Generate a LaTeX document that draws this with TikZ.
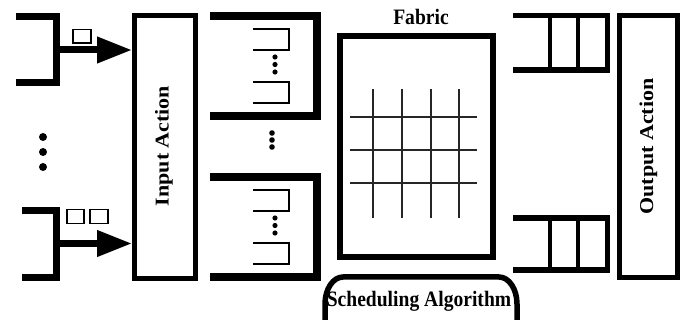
\documentclass[tikz,border=0pt]{standalone}
\usepackage{fontspec}
\setmainfont{Liberation Serif}
\usetikzlibrary{arrows.meta}
\tikzset{
  lbl/.style={font=\fontsize{22}{24}\selectfont\bfseries, inner sep=0pt},
  qbar/.style={line width=7pt, line join=miter},
  voq/.style={line width=8pt, line join=miter},
  thinq/.style={line width=1.8pt, line join=miter},
  oq/.style={line width=5.5pt, line join=miter},
  oqsep/.style={line width=4pt},
  actbox/.style={line width=5pt},
  pkt/.style={line width=1.8pt},
  feed/.style={line width=7pt, -{Triangle[length=35pt,width=25pt]}},
  grid/.style={line width=1.3pt, black!85},
}
\begin{document}
\begin{tikzpicture}[x=1pt,y=-1pt]
\useasboundingbox (0,0) rectangle (686,320);
\clip (0,0) rectangle (686,320);

% Input Action box
\draw[actbox] (134.5,15.5) rectangle (195.5,278.5);
\node[lbl, rotate=90] (inbox) at (164,146) {\scalebox{1}[0.89]{Input Action}};
\coordinate (inW1) at (132,50);
\coordinate (inW2) at (132,243.5);

% input queues
\draw[qbar] (16,16.5) -- (56.5,16.5) -- (56.5,83) -- (16,83);
\draw[qbar] (22,210.5) -- (56.5,210.5) -- (56.5,277.5) -- (22,277.5);
\coordinate (q1) at (56.5,50);
\coordinate (q2) at (56.5,243.5);
\draw[feed] (q1) -- (inW1);
\draw[feed] (q2) -- (inW2);

% packets
\draw[pkt] (73,29.5) rectangle (91,43);
\draw[pkt] (67,209.5) rectangle (84,223.5);
\draw[pkt] (90,209.5) rectangle (108,223.5);

% left dots
\fill (43,137) circle (4);
\fill (43,152) circle (4);
\fill (43,167) circle (4);

% VOQ blocks
\draw[voq] (210,16) -- (316.5,16) -- (316.5,116) -- (210,116);
\draw[voq] (210,177) -- (316.5,177) -- (316.5,277) -- (210,277);

\draw[thinq] (253,29) -- (289,29) -- (289,50) -- (253,50);
\draw[thinq] (253,82) -- (289,82) -- (289,103) -- (253,103);
\draw[thinq] (253,190) -- (289,190) -- (289,211) -- (253,211);
\draw[thinq] (253,243) -- (289,243) -- (289,264) -- (253,264);

\foreach \y in {57,64.5,72,218,225.5,233}{\fill (275,\y) circle (2.6);}
\foreach \y in {133,140,147}{\fill (272,\y) circle (2.8);}

% Fabric
\node[lbl, anchor=base] (fablbl) at (421,25) {\scalebox{0.89}[1]{Fabric}};
\draw[line width=5.5pt] (340,36) rectangle (493,257);
\node (fabric) at (416.5,146.5) {};
\foreach \y in {117,150,183}{\draw[grid] (350,\y) -- (477,\y);}
\foreach \x in {373,402,431,459}{\draw[grid] (\x,89) -- (\x,218);}

% Scheduling algorithm
\draw[line width=5.5pt] (325,340) -- (325,304)
  arc[start angle=180, end angle=270, x radius=18, y radius=27]
  -- (499,277)
  arc[start angle=270, end angle=360, x radius=18, y radius=27]
  -- (517,340);
\node[lbl, anchor=base] (sched) at (419,307) {\scalebox{0.89}[1]{Scheduling Algorithm}};

% output queues
\draw[oq] (513,15.5) -- (607.5,15.5) -- (607.5,70) -- (513,70);
\draw[oqsep] (549.5,15.5) -- (549.5,70);
\draw[oqsep] (578,15.5) -- (578,70);
\draw[oq] (513,218) -- (607.5,218) -- (607.5,270) -- (513,270);
\draw[oqsep] (549.5,218) -- (549.5,270);
\draw[oqsep] (578,218) -- (578,270);

% Output Action box
\draw[actbox] (619.5,15.5) rectangle (677.5,277.5);
\node[lbl, rotate=90] (outbox) at (648.5,146.5) {\scalebox{1}[0.89]{Output Action}};
\end{tikzpicture}
\end{document}
